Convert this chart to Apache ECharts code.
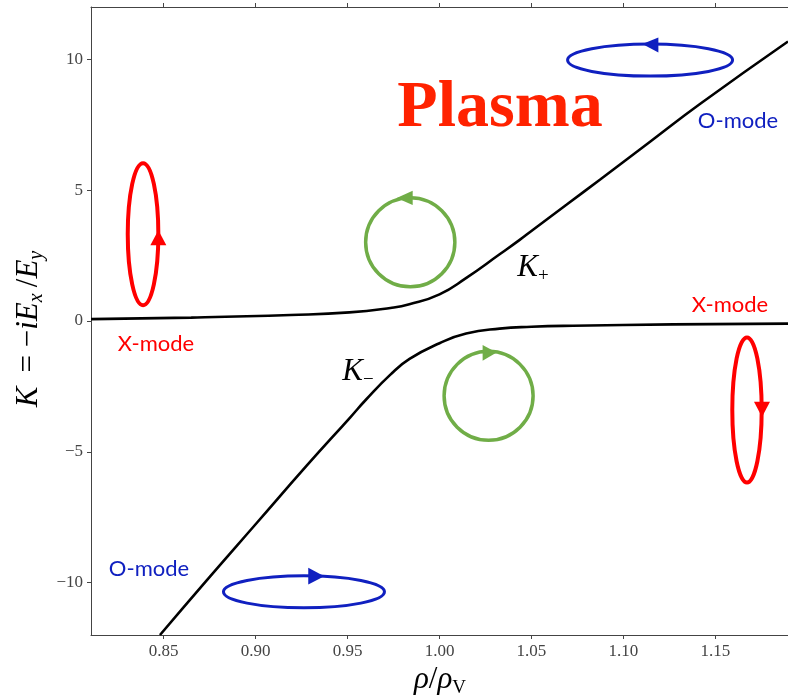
<!DOCTYPE html>
<html><head><meta charset="utf-8">
<script src="https://cdn.jsdelivr.net/npm/echarts@6/dist/echarts.min.js"></script>
<style>html,body{margin:0;padding:0;background:#fff}#c{width:788px;height:698px}</style>
</head><body><div id="c"></div>
<script>
// ---- data ----
const rhoPlus = [0.8105, 0.865, 0.919, 0.951, 0.9733, 0.9836, 1.0, 1.0146, 1.0327, 1.0436, 1.0507, 1.0692, 1.0872, 1.1145, 1.1418, 1.1895];
const kPlus   = [0.07, 0.13, 0.23, 0.33, 0.50, 0.64, 1.02, 1.65, 2.55, 3.10, 3.48, 4.45, 5.40, 6.85, 8.30, 10.68];
const rhoMinus = [0.848, 0.8733, 0.9006, 0.9279, 0.9515, 0.9601, 0.9733, 0.9837, 1.0, 1.0145, 1.0327, 1.05, 1.0725, 1.127, 1.1895];
const kMinus   = [-12.0, -9.92, -7.72, -5.52, -3.68, -3.00, -2.05, -1.45, -0.85, -0.48, -0.29, -0.22, -0.18, -0.13, -0.10];
const xTicks = [0.85, 0.90, 0.95, 1.00, 1.05, 1.10, 1.15];
const yTicks = [-10, -5, 0, 5, 10];
const xRange = [0.8105, 1.1895];
const yRange = [-12, 12];

const chart = echarts.init(document.getElementById('c'), null, {renderer: 'canvas'});
const axisCol = '#444';
const serif = 'Liberation Serif';
function xAxisDef(pos, showLabel) {
  return {
    type: 'value', position: pos, min: xRange[0], max: xRange[1],
    axisLine: {show: true, onZero: false, lineStyle: {color: axisCol, width: 1}},
    axisTick: {show: true, length: 4, customValues: xTicks, lineStyle: {color: axisCol}},
    axisLabel: {show: showLabel, customValues: xTicks, formatter: v => v.toFixed(2),
      fontFamily: serif, fontSize: 17, color: axisCol, margin: 8},
    splitLine: {show: false}
  };
}
chart.setOption({
  animation: false,
  grid: {left: 91, top: 7, width: 697, height: 628, containLabel: false},
  xAxis: [xAxisDef('bottom', true), xAxisDef('top', false)],
  yAxis: [{
    type: 'value', min: yRange[0], max: yRange[1],
    axisLine: {show: true, onZero: false, lineStyle: {color: axisCol, width: 1}},
    axisTick: {show: true, length: 4, customValues: yTicks, lineStyle: {color: axisCol}},
    axisLabel: {customValues: yTicks, formatter: v => (v < 0 ? '\u2212' + Math.abs(v) : String(v)),
      fontFamily: serif, fontSize: 17, color: axisCol, margin: 8},
    splitLine: {show: false}
  }],
  series: [
    {type: 'line', name: 'K+', xAxisIndex: 0, yAxisIndex: 0, showSymbol: false, symbol: 'none',
     smooth: 0.5, clip: true,
     lineStyle: {color: '#000', width: 2.6},
     data: rhoPlus.map((r, i) => [r, kPlus[i]])},
    {type: 'line', name: 'K-', xAxisIndex: 0, yAxisIndex: 0, showSymbol: false, symbol: 'none',
     smooth: 0.5, clip: true,
     lineStyle: {color: '#000', width: 2.6},
     data: rhoMinus.map((r, i) => [r, kMinus[i]])}
  ]
});

// ---- polarisation sketches (anchored in data coordinates) ----
const RED = '#ff0000', BLUE = '#1020c0', GREEN = '#70ad47';
const sketches = [
  {c: [0.8388, 3.32],  rx: 15.3, ry: 71,  color: RED,   w: 4,   arrow: [[15.3, -4], [7.3, 11], [23.3, 11]]},
  {c: [1.1672, -3.40], rx: 14.7, ry: 72.5, color: RED,  w: 4,   arrow: [[15, 7], [7, -8.3], [23, -8.3]]},
  {c: [1.1145, 9.97],  rx: 82.5, ry: 16,  color: BLUE,  w: 3,   arrow: [[-7.7, -16], [8.3, -22.7], [8.3, -7.7]]},
  {c: [0.9263, -10.35], rx: 80.5, ry: 16, color: BLUE,  w: 3,   arrow: [[20.3, -15.7], [4.3, -24], [4.3, -7.4]]},
  {c: [0.9841, 3.01],  rx: 44.6, ry: 44.6, color: GREEN, w: 3.5, arrow: [[-13.6, -44.2], [2.4, -51.5], [2.4, -37.2]]},
  {c: [1.0267, -2.86], rx: 44.5, ry: 44.5, color: GREEN, w: 3.5, arrow: [[8, -43.3], [-6, -50.8], [-6, -35.1]]}
];
const g = [];
sketches.forEach(s => {
  const p = chart.convertToPixel({xAxisIndex: 0, yAxisIndex: 0}, s.c);
  g.push({type: 'ellipse', shape: {cx: p[0], cy: p[1], rx: s.rx, ry: s.ry},
          style: {fill: 'none', stroke: s.color, lineWidth: s.w}, z: 10});
  g.push({type: 'polygon', shape: {points: s.arrow.map(a => [p[0] + a[0], p[1] + a[1]])},
          style: {fill: s.color}, z: 11});
});

// ---- texts ----
function txt(x, y, text, font, color, extra) {
  return Object.assign({type: 'text', x: x, y: y, z: 12,
    style: Object.assign({text: text, font: font, fill: color, align: 'center', verticalAlign: 'middle'}, extra || {})});
}
const modeFont = '22px Lato';
g.push(txt(500, 109, 'Plasma', 'bold 66px "Liberation Serif"', '#ff2200'));
g.push(txt(738, 121, 'O-mode', modeFont, BLUE));
g.push(txt(149, 569, 'O-mode', modeFont, BLUE));
g.push(txt(156, 344, 'X-mode', modeFont, RED));
g.push(txt(730, 305, 'X-mode', modeFont, RED));

const mi = {fontFamily: serif, fontStyle: 'italic', fontSize: 31, lineHeight: 36, fill: '#000'};
const mn = {fontFamily: serif, fontSize: 31, lineHeight: 36, fill: '#000'};
const ms = {fontFamily: serif, fontStyle: 'italic', fontSize: 20, lineHeight: 36, verticalAlign: 'bottom', fill: '#000'};
const msn = {fontFamily: serif, fontSize: 19, lineHeight: 36, verticalAlign: 'bottom', fill: '#000'};
function rich(x, y, text, rot) {
  return {type: 'text', x: x, y: y, rotation: rot || 0, z: 12,
    style: {text: text, align: 'center', verticalAlign: 'middle', rich: {i: mi, n: mn, s: ms, t: msn}}};
}
g.push(rich(533, 268, '{i|K}{t|+}'));
g.push(rich(358, 372, '{i|K}{t|\u2212}'));
g.push(rich(29, 329, '{i|K}{n| \u2009= \u2212}{i|iE}{s|x}{n|\u2009/}{i|E}{s|y}', Math.PI / 2));
g.push(rich(440, 680, '{i|\u03c1}{n|/}{i|\u03c1}{t|V}'));

chart.setOption({graphic: g});
</script></body></html>
